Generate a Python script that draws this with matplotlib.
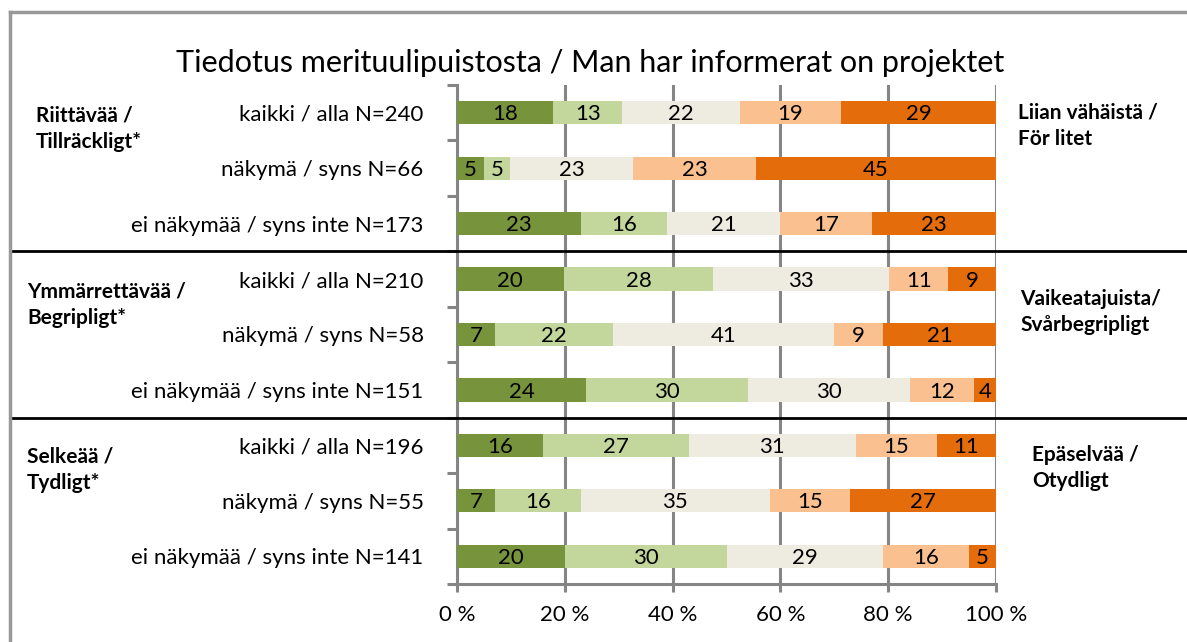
import numpy as np
import matplotlib.pyplot as plt
from matplotlib.lines import Line2D
from matplotlib.transforms import blended_transform_factory

plt.rcParams['font.family'] = ['Lato', 'DejaVu Sans']

# rivit ylhäältä alas
rivit = ['kaikki / alla N=240', 'näkymä / syns N=66', 'ei näkymää / syns inte N=173',
         'kaikki / alla N=210', 'näkymä / syns N=58', 'ei näkymää / syns inte N=151',
         'kaikki / alla N=196', 'näkymä / syns N=55', 'ei näkymää / syns inte N=141']

# vastausluokat vasemmalta oikealle (prosenttia)
luokka1 = [18, 5, 23, 20, 7, 24, 16, 7, 20]
luokka2 = [13, 5, 16, 28, 22, 30, 27, 16, 30]
luokka3 = [22, 23, 21, 33, 41, 30, 31, 35, 29]
luokka4 = [19, 23, 17, 11, 9, 12, 15, 15, 16]
luokka5 = [29, 45, 23, 9, 21, 4, 11, 27, 5]

varit = ['#77933C', '#C3D69B', '#EEECE1', '#FAC090', '#E46C0A']

vasen_otsikot = ['Riittävää /\nTillräckligt*', 'Ymmärrettävää /\nBegripligt*', 'Selkeää /\nTydligt*']
oikea_otsikot = ['Liian vähäistä /\nFör litet', 'Vaikeatajuista/\nSvårbegripligt', 'Epäselvää /\nOtydligt']

otsikko = 'Tiedotus merituulipuistosta / Man har informerat on projektet'
xtikit = [0, 20, 40, 60, 80, 100]

W, H = 1187, 642
fig = plt.figure(figsize=(W / 100, H / 100), dpi=100)
ax = fig.add_axes([457 / W, 1 - 584 / H, (996 - 457) / W, (584 - 85) / H])

# Excel-tyyliin jokainen rivi skaalataan 100 %:iin
data = np.array([luokka1, luokka2, luokka3, luokka4, luokka5], dtype=float)
osuus = data / data.sum(axis=0) * 100
y = np.arange(len(rivit))
vasen = np.zeros(len(rivit))

harmaa = '#858585'
ax.set_axisbelow(True)
ax.grid(axis='x', color=harmaa, linewidth=2.2)

for i in range(len(data)):
    ax.barh(y, osuus[i], left=vasen, height=0.42, color=varit[i], zorder=3)
    for j in range(len(rivit)):
        ax.text(vasen[j] + osuus[i][j] / 2, y[j] + 0.03, str(int(data[i][j])),
                ha='center', va='center', fontsize=16, zorder=4)
    vasen += osuus[i]

ax.set_xlim(0, 100)
ax.set_ylim(len(rivit) - 0.5, -0.5)
ax.set_xticks(xtikit)
ax.set_xticklabels([f'{t} %' for t in xtikit], fontsize=16)
ax.tick_params(axis='x', color=harmaa, width=2.2, length=6, pad=9)

ax.set_yticks(y)
ax.set_yticklabels(rivit, fontsize=16)
ax.tick_params(axis='y', length=0, pad=24)
ax.set_yticks(np.arange(-0.5, len(rivit)), minor=True)
ax.tick_params(axis='y', which='minor', color=harmaa, width=2.2, length=7)

for s in ['top', 'right']:
    ax.spines[s].set_visible(False)
for s in ['left', 'bottom']:
    ax.spines[s].set_color(harmaa)
    ax.spines[s].set_linewidth(2.2)

fig.text(590 / W, 1 - 63 / H, otsikko, ha='center', va='center', fontsize=22)

# ryhmien väliset viivat
tr = blended_transform_factory(fig.transFigure, ax.transData)
for raja in [2.5, 5.5]:
    fig.add_artist(Line2D([10 / W, 1], [raja, raja], transform=tr, color='black', linewidth=2))

# kehys ylä- ja vasemmalla
fig.add_artist(Line2D([10 / W, 1], [1 - 12 / H, 1 - 12 / H], color='#999999', linewidth=2.5))
fig.add_artist(Line2D([10 / W, 10 / W], [0, 1 - 12 / H], color='#999999', linewidth=2.5))

vasen_pos = [(36, 129), (27, 305), (27, 470)]
oikea_pos = [(1018, 126), (1020, 312), (1032, 468)]
for teksti, (px, py) in zip(vasen_otsikot, vasen_pos):
    fig.text(px / W, 1 - py / H, teksti, ha='left', va='center', fontsize=15,
             fontweight='bold', linespacing=1.4)
for teksti, (px, py) in zip(oikea_otsikot, oikea_pos):
    fig.text(px / W, 1 - py / H, teksti, ha='left', va='center', fontsize=15,
             fontweight='bold', linespacing=1.4)

fig.savefig('out.png', dpi=100)
